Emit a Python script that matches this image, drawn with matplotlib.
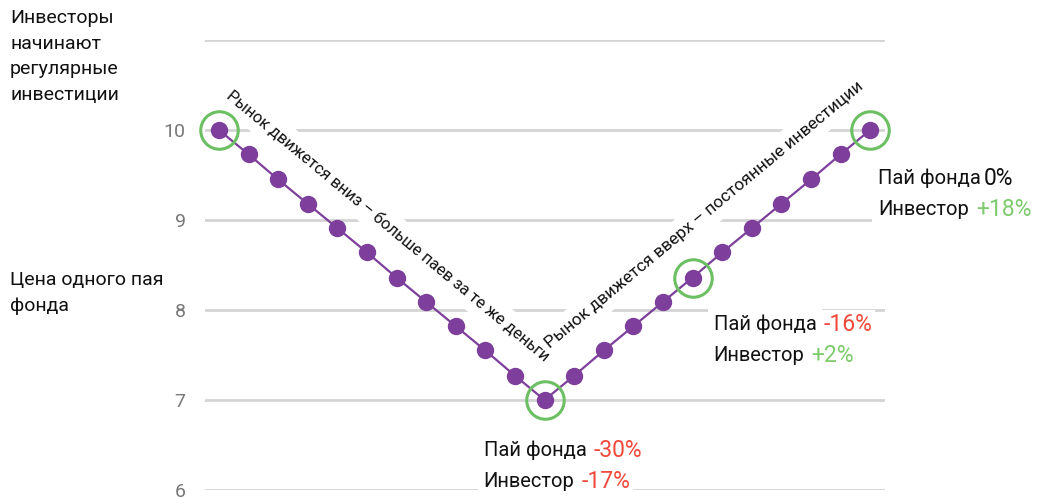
import matplotlib
matplotlib.use("Agg")
import matplotlib.pyplot as plt

plt.rcParams['font.family'] = ['Roboto', 'DejaVu Sans']

# fund unit price at each regular investment step
price = [10.0, 9.73, 9.45, 9.18, 8.91, 8.64, 8.36, 8.09, 7.82, 7.55, 7.27, 7.0,
         7.27, 7.55, 7.82, 8.09, 8.36, 8.64, 8.91, 9.18, 9.45, 9.73, 10.0]
steps = list(range(len(price)))
highlight = [0, 11, 16, 22]
y_ticks = [6, 7, 8, 9, 10, 11]
y_ticklabels = ['6', '7', '8', '9', '10', '']

# result blocks: (step, fund change, investor change, offset in pixels)
results = [
    (22, '0%', '+18%', (8, -48)),
    (16, '-16%', '+2%', (21, -47)),
    (11, '-30%', '-17%', (-61, -50)),
]

PURPLE = '#7d3f9b'
GREEN = '#6cbf62'
GREEN_TXT = '#7ccc6c'
RED = '#f0493b'
GRID = '#d4d4d4'

fig = plt.figure(figsize=(10.38, 4.98), dpi=100)
ax = fig.add_axes([205 / 1038, 8 / 498, 680 / 1038, 450 / 498])
ax.set_xlim(-0.47, 22.5)
ax.set_ylim(6, 11)

for t in y_ticks:
    ax.axhline(t, color=GRID, lw=2, zorder=0)
ax.set_yticks(y_ticks)
ax.set_yticklabels(y_ticklabels)
ax.tick_params(axis='y', length=0, pad=14, labelsize=14, labelcolor='#777777')
ax.set_xticks([])
for s in ax.spines.values():
    s.set_visible(False)

ax.plot(steps, price, color=PURPLE, lw=1.6, marker='o', ms=11.5,
        mec=PURPLE, mfc=PURPLE, zorder=4, clip_on=False)
ax.plot([steps[i] for i in highlight], [price[i] for i in highlight],
        ls='none', marker='o', ms=27, mfc='none', mec=GREEN, mew=2.2,
        zorder=5, clip_on=False)

# slope captions: white box (behind) breaks the grid, text drawn on top
white = dict(boxstyle='square,pad=0.45', fc='white', ec='none')
captions = [
    (5.7, 8.94, -39.7, 11.8, 'Рынок движется вниз – больше паев за те же деньги'),
    (16.4, 9.06, 39.7, 12.4, 'Рынок движется вверх – постоянные инвестиции'),
]
for x, y, rot, fs, s in captions:
    kw = dict(rotation=rot, rotation_mode='anchor', ha='center', va='center',
              fontsize=fs)
    ax.text(x, y, s, color='none', bbox=white, zorder=1, **kw)
    ax.text(x, y, s, color='#111111', zorder=3, **kw)


def val_color(v):
    if v.startswith('-'):
        return RED
    if v.startswith('+'):
        return GREEN_TXT
    return '#111111'


box = dict(boxstyle='square,pad=0.3', fc='white', ec='none')
vbox = dict(boxstyle='square,pad=0.12', fc='white', ec='none')
for step, fund, inv, (dx, dy) in results:
    for k, (lab, val) in enumerate([('Пай фонда', fund), ('Инвестор', inv)]):
        t = ax.annotate(lab, xy=(step, price[step]), xytext=(dx, dy - 31 * k),
                        textcoords='offset pixels', ha='left', va='center',
                        fontsize=14.5, color='#111111', bbox=box, zorder=2,
                        annotation_clip=False)
        ax.annotate(val, xy=(1, 0.5), xycoords=t, xytext=(7 if val != '0%' else 3, 0),
                    textcoords='offset pixels', ha='left', va='center',
                    fontsize=16.5, color=val_color(val), bbox=vbox, zorder=3)

fig.text(10 / 1038, 1 - 9 / 498, 'Инвесторы\nначинают\nрегулярные\nинвестиции',
         ha='left', va='top', fontsize=14, linespacing=1.55, color='#111111')
fig.text(10 / 1038, 1 - 271 / 498, 'Цена одного пая\nфонда',
         ha='left', va='top', fontsize=14, linespacing=1.55, color='#111111')

fig.savefig('out.png', dpi=100, facecolor='white')
